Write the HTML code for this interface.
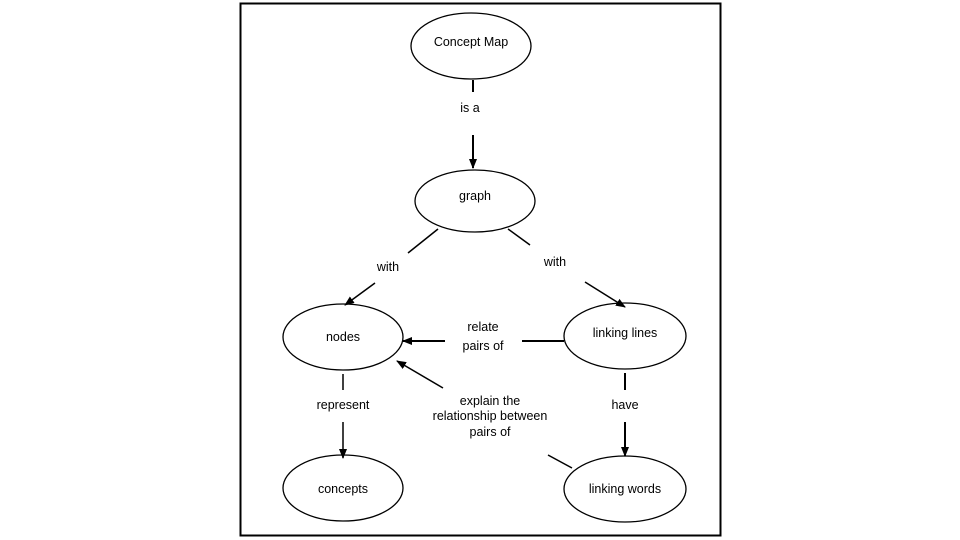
<!DOCTYPE html>
<html><head><style>
html,body{margin:0;padding:0;background:#fff;}
svg{display:block;}
text{font-family:"Liberation Sans",sans-serif;font-size:12.5px;fill:#000;text-anchor:middle;}
</style></head><body>
<svg width="960" height="540" viewBox="0 0 960 540">
<defs><marker id="a" markerWidth="10" markerHeight="10" refX="9" refY="5" orient="auto" markerUnits="userSpaceOnUse"><path d="M0,1 L10,5 L0,9 Z" fill="#000"/></marker></defs>
<rect x="240.5" y="3.5" width="480" height="532" fill="#fff" stroke="#000" stroke-width="2"/>
<g fill="#fff" stroke="#000" stroke-width="1.3">
<ellipse cx="471" cy="46" rx="60" ry="33"/>
<ellipse cx="475" cy="201" rx="60" ry="31"/>
<ellipse cx="343" cy="337" rx="60" ry="33"/>
<ellipse cx="625" cy="336" rx="61" ry="33"/>
<ellipse cx="343" cy="488" rx="60" ry="33"/>
<ellipse cx="625" cy="489" rx="61" ry="33"/>
</g>
<g stroke="#000" stroke-width="1.5" fill="none">
<line x1="473" y1="80" x2="473" y2="92" stroke-width="2"/>
<line x1="473" y1="135" x2="473" y2="168" stroke-width="2" marker-end="url(#a)"/>
<line x1="438" y1="229" x2="408" y2="253"/>
<line x1="375" y1="283" x2="345" y2="305" marker-end="url(#a)"/>
<line x1="508" y1="229" x2="530" y2="245"/>
<line x1="585" y1="282" x2="625" y2="307" marker-end="url(#a)"/>
<line x1="564" y1="341" x2="522" y2="341" stroke-width="2"/>
<line x1="445" y1="341" x2="403" y2="341" stroke-width="2" marker-end="url(#a)"/>
<line x1="443" y1="388" x2="397" y2="361" marker-end="url(#a)"/>
<line x1="548" y1="455" x2="572" y2="468"/>
<line x1="343" y1="374" x2="343" y2="390"/>
<line x1="343" y1="422" x2="343" y2="458" marker-end="url(#a)"/>
<line x1="625" y1="373" x2="625" y2="390" stroke-width="2"/>
<line x1="625" y1="422" x2="625" y2="456" stroke-width="2" marker-end="url(#a)"/>
</g>
<text x="471" y="46">Concept Map</text>
<text x="475" y="200">graph</text>
<text x="343" y="341">nodes</text>
<text x="625" y="337">linking lines</text>
<text x="343" y="493">concepts</text>
<text x="625" y="493">linking words</text>
<text x="470" y="112">is a</text>
<text x="388" y="271">with</text>
<text x="555" y="266">with</text>
<text x="483" y="331">relate</text>
<text x="483" y="350">pairs of</text>
<text x="343" y="409">represent</text>
<text x="625" y="409">have</text>
<text x="490" y="405">explain the</text>
<text x="490" y="420">relationship between</text>
<text x="490" y="436">pairs of</text>
</svg>
</body></html>
